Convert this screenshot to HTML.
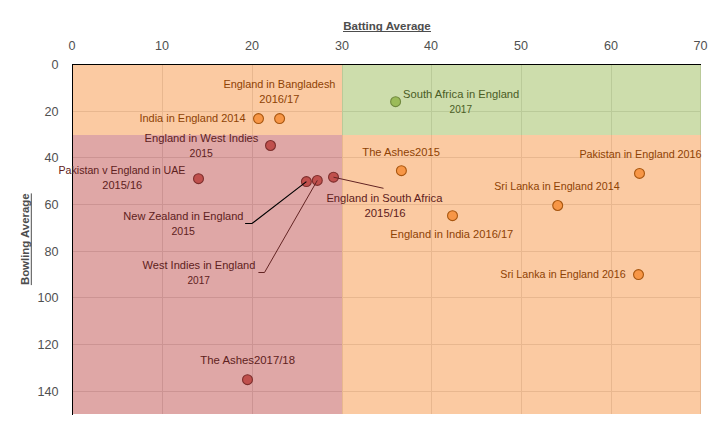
<!DOCTYPE html>
<html><head><meta charset="utf-8"><title>Chart</title>
<style>
html,body{margin:0;padding:0;background:#fff;}
svg{display:block;}
text{font-family:"Liberation Sans",sans-serif;}
.tick{font-size:12.60px;fill:#505050;}
.lbl{font-size:11.00px;}
.ttl{font-size:11.00px;font-weight:bold;fill:#4d4d4d;}
.o{fill:#8E4204;}
.r{fill:#5E2120;}
.g{fill:#4A5C25;}
</style></head><body>
<svg width="723" height="430" viewBox="0 0 723 430">
<rect x="0" y="0" width="723" height="430" fill="#ffffff"/>

<g stroke="#D9D9D9" stroke-width="1" shape-rendering="crispEdges">
<line x1="162.5" y1="65" x2="162.5" y2="414"/>
<line x1="252.5" y1="65" x2="252.5" y2="414"/>
<line x1="342.5" y1="65" x2="342.5" y2="414"/>
<line x1="431.5" y1="65" x2="431.5" y2="414"/>
<line x1="521.5" y1="65" x2="521.5" y2="414"/>
<line x1="611.5" y1="65" x2="611.5" y2="414"/>
<line x1="700.5" y1="65" x2="700.5" y2="414"/>
<line x1="73" y1="111.5" x2="701" y2="111.5"/>
<line x1="73" y1="157.5" x2="701" y2="157.5"/>
<line x1="73" y1="204.5" x2="701" y2="204.5"/>
<line x1="73" y1="251.5" x2="701" y2="251.5"/>
<line x1="73" y1="297.5" x2="701" y2="297.5"/>
<line x1="73" y1="344.5" x2="701" y2="344.5"/>
<line x1="73" y1="391.5" x2="701" y2="391.5"/>
</g>
<g shape-rendering="crispEdges">
<rect x="73" y="65" width="269" height="70" fill="#F79646" fill-opacity="0.5"/>
<rect x="342" y="65" width="359" height="70" fill="#9BBB59" fill-opacity="0.5"/>
<rect x="73" y="135" width="269" height="279" fill="#C0504D" fill-opacity="0.5"/>
<rect x="342" y="135" width="359" height="279" fill="#F79646" fill-opacity="0.5"/>
</g>
<g stroke="#000" stroke-width="1" shape-rendering="crispEdges">
<line x1="72" y1="64.5" x2="701" y2="64.5"/>
<line x1="72.5" y1="64" x2="72.5" y2="415"/>
</g>
<text class="tick" x="72.1" y="49.8" text-anchor="middle">0</text>
<text class="tick" x="162.1" y="49.8" text-anchor="middle">10</text>
<text class="tick" x="252.1" y="49.8" text-anchor="middle">20</text>
<text class="tick" x="342.1" y="49.8" text-anchor="middle">30</text>
<text class="tick" x="431.1" y="49.8" text-anchor="middle">40</text>
<text class="tick" x="521.1" y="49.8" text-anchor="middle">50</text>
<text class="tick" x="611.1" y="49.8" text-anchor="middle">60</text>
<text class="tick" x="700.4" y="49.8" text-anchor="middle">70</text>
<text class="tick" x="58.6" y="69.0" text-anchor="end">0</text>
<text class="tick" x="58.6" y="116.0" text-anchor="end">20</text>
<text class="tick" x="58.6" y="162.0" text-anchor="end">40</text>
<text class="tick" x="58.6" y="209.0" text-anchor="end">60</text>
<text class="tick" x="58.6" y="256.0" text-anchor="end">80</text>
<text class="tick" x="58.6" y="302.0" text-anchor="end">100</text>
<text class="tick" x="58.6" y="349.0" text-anchor="end">120</text>
<text class="tick" x="58.6" y="396.0" text-anchor="end">140</text>
<text class="ttl" x="343.2" y="29.8" textLength="87.6" lengthAdjust="spacingAndGlyphs">Batting Average</text>
<line x1="343" y1="31.5" x2="431" y2="31.5" stroke="#4d4d4d" stroke-width="1"/>
<g transform="translate(29.3,285.1) rotate(-90)"><text class="ttl" x="0" y="0" textLength="91.7" lengthAdjust="spacingAndGlyphs">Bowling Average</text><line x1="0" y1="2" x2="91.7" y2="2" stroke="#4d4d4d" stroke-width="1"/></g>
<circle cx="258.5" cy="118.6" r="4.95" fill="#F79646" stroke="#A8560F" stroke-width="1.1"/>
<circle cx="279.6" cy="118.6" r="4.95" fill="#F79646" stroke="#A8560F" stroke-width="1.1"/>
<circle cx="401.4" cy="170.7" r="4.95" fill="#F79646" stroke="#A8560F" stroke-width="1.1"/>
<circle cx="452.5" cy="215.7" r="4.95" fill="#F79646" stroke="#A8560F" stroke-width="1.1"/>
<circle cx="557.7" cy="205.5" r="4.95" fill="#F79646" stroke="#A8560F" stroke-width="1.1"/>
<circle cx="639.5" cy="173.4" r="4.95" fill="#F79646" stroke="#A8560F" stroke-width="1.1"/>
<circle cx="638.5" cy="274.6" r="4.95" fill="#F79646" stroke="#A8560F" stroke-width="1.1"/>
<circle cx="270.5" cy="145.5" r="4.95" fill="#C0504D" stroke="#7E2F2D" stroke-width="1.1"/>
<circle cx="198.5" cy="178.7" r="4.95" fill="#C0504D" stroke="#7E2F2D" stroke-width="1.1"/>
<circle cx="306.4" cy="181.6" r="4.95" fill="#C0504D" stroke="#7E2F2D" stroke-width="1.1"/>
<circle cx="317.3" cy="180.4" r="4.95" fill="#C0504D" stroke="#7E2F2D" stroke-width="1.1"/>
<circle cx="333.5" cy="177.2" r="4.95" fill="#C0504D" stroke="#7E2F2D" stroke-width="1.1"/>
<circle cx="247.5" cy="379.7" r="4.95" fill="#C0504D" stroke="#7E2F2D" stroke-width="1.1"/>
<circle cx="395.6" cy="101.7" r="4.95" fill="#9BBB59" stroke="#71893F" stroke-width="1.1"/>
<g fill="none" stroke-width="1">
<polyline points="245.1,223.5 252.0,223.5 306.4,181.6" stroke="#000" stroke-width="1.15"/>
<polyline points="258.4,272.5 264.5,272.5 317.3,180.4" stroke="#632423"/>
<polyline points="333.5,177.2 383.5,188.3" stroke="#632423"/>
</g>
<text class="lbl o" x="223.4" y="87.7" textLength="112.0" lengthAdjust="spacingAndGlyphs">England in Bangladesh</text>
<text class="lbl o" x="259.3" y="102.6" textLength="40.2" lengthAdjust="spacingAndGlyphs">2016/17</text>
<text class="lbl o" x="139.4" y="122.1" textLength="106.2" lengthAdjust="spacingAndGlyphs">India in England 2014</text>
<text class="lbl r" x="144.6" y="141.5" textLength="113.8" lengthAdjust="spacingAndGlyphs">England in West Indies</text>
<text class="lbl r" x="189.6" y="157.2" textLength="23.2" lengthAdjust="spacingAndGlyphs">2015</text>
<text class="lbl r" x="58.5" y="173.7" textLength="126.9" lengthAdjust="spacingAndGlyphs">Pakistan v England in UAE</text>
<text class="lbl r" x="102.3" y="188.6" textLength="39.9" lengthAdjust="spacingAndGlyphs">2015/16</text>
<text class="lbl r" x="123.3" y="219.7" textLength="120.2" lengthAdjust="spacingAndGlyphs">New Zealand in England</text>
<text class="lbl r" x="171.4" y="234.6" textLength="23.5" lengthAdjust="spacingAndGlyphs">2015</text>
<text class="lbl r" x="142.5" y="268.7" textLength="112.9" lengthAdjust="spacingAndGlyphs">West Indies in England</text>
<text class="lbl r" x="187.5" y="283.5" textLength="22.5" lengthAdjust="spacingAndGlyphs">2017</text>
<text class="lbl r" x="200.3" y="363.8" textLength="94.7" lengthAdjust="spacingAndGlyphs">The Ashes2017/18</text>
<text class="lbl g" x="403.1" y="97.9" textLength="116.2" lengthAdjust="spacingAndGlyphs">South Africa in England</text>
<text class="lbl g" x="449.6" y="112.8" textLength="22.4" lengthAdjust="spacingAndGlyphs">2017</text>
<text class="lbl o" x="362.3" y="155.6" textLength="77.7" lengthAdjust="spacingAndGlyphs">The Ashes2015</text>
<text class="lbl r" x="326.4" y="201.5" textLength="116.0" lengthAdjust="spacingAndGlyphs">England in South Africa</text>
<text class="lbl r" x="364.5" y="217.0" textLength="41.0" lengthAdjust="spacingAndGlyphs">2015/16</text>
<text class="lbl o" x="390.3" y="237.7" textLength="123.0" lengthAdjust="spacingAndGlyphs">England in India 2016/17</text>
<text class="lbl o" x="579.4" y="157.7" textLength="122.2" lengthAdjust="spacingAndGlyphs">Pakistan in England 2016</text>
<text class="lbl o" x="494.2" y="190.0" textLength="125.4" lengthAdjust="spacingAndGlyphs">Sri Lanka in England 2014</text>
<text class="lbl o" x="500.3" y="277.5" textLength="125.4" lengthAdjust="spacingAndGlyphs">Sri Lanka in England 2016</text>
</svg></body></html>
